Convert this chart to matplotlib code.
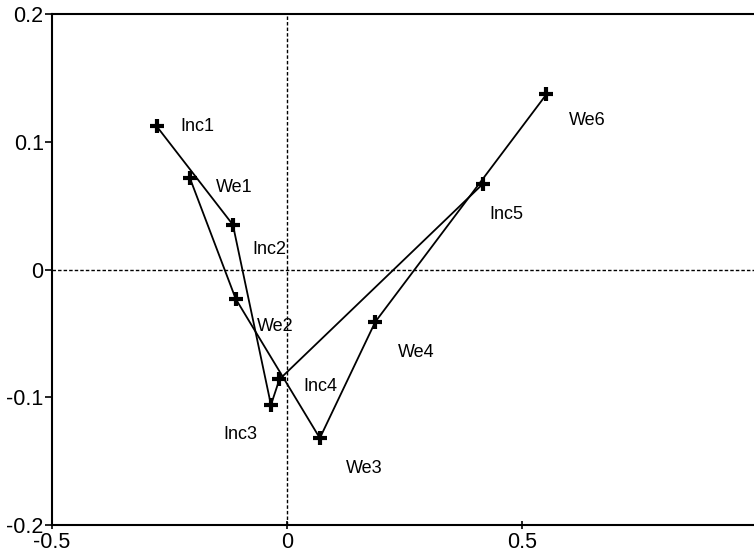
import matplotlib
matplotlib.use("Agg")
import matplotlib.pyplot as plt

# Inc series
inc_names = ["Inc1", "Inc2", "Inc3", "Inc4", "Inc5"]
inc_x = [-0.277, -0.115, -0.034, -0.016, 0.417]
inc_y = [0.112, 0.035, -0.106, -0.086, 0.067]

# We series
we_names = ["We1", "We2", "We3", "We4", "We6"]
we_x = [-0.207, -0.109, 0.070, 0.188, 0.552]
we_y = [0.072, -0.023, -0.132, -0.041, 0.137]

# label offsets in points (dx, dy)
inc_off = [(17, 0), (14, -18), (-34, -21), (17, -5), (5, -22)]
we_off = [(19, -7), (15, -20), (19, -22), (16, -22), (16, -19)]

plt.rcParams['font.family'] = ['Liberation Sans', 'DejaVu Sans']

fig = plt.figure(figsize=(7.54, 5.58), dpi=100)
ax = fig.add_axes([52 / 754, 1 - 525 / 558, 1 - 52 / 754, (525 - 14) / 558])

ax.axhline(0, color="black", lw=1.0, ls=(0, (2.5, 1.5)), zorder=1)
ax.axvline(0, color="black", lw=1.0, ls=(0, (2.5, 1.5)), zorder=1)

for xs, ys in [(inc_x, inc_y), (we_x, we_y)]:
    ax.plot(xs, ys, color="black", lw=1.3, marker="+", ms=10, mew=3.0, zorder=3)

for names, xs, ys, offs in [(inc_names, inc_x, inc_y, inc_off), (we_names, we_x, we_y, we_off)]:
    for n, x, y, o in zip(names, xs, ys, offs):
        ax.annotate(n, (x, y), xytext=o, textcoords="offset points",
                    fontsize=13, ha="left", va="center")

ax.set_xlim(-0.5, 0.994)
ax.set_ylim(-0.2, 0.2)
ax.set_xticks([-0.5, 0, 0.5])
ax.set_xticklabels(["-0.5", "0", "0.5"])
ax.set_yticks([-0.2, -0.1, 0, 0.1, 0.2])
ax.set_yticklabels(["-0.2", "-0.1", "0", "0.1", "0.2"])
ax.tick_params(axis="y", direction="out", length=5, width=1.2, labelsize=15.5, pad=1)
ax.tick_params(axis="x", direction="inout", length=6, width=1.2, labelsize=15.5, pad=2)
ax.spines["right"].set_visible(False)
for s in ["left", "bottom", "top"]:
    ax.spines[s].set_linewidth(1.5)

fig.savefig("out.png", dpi=100)
